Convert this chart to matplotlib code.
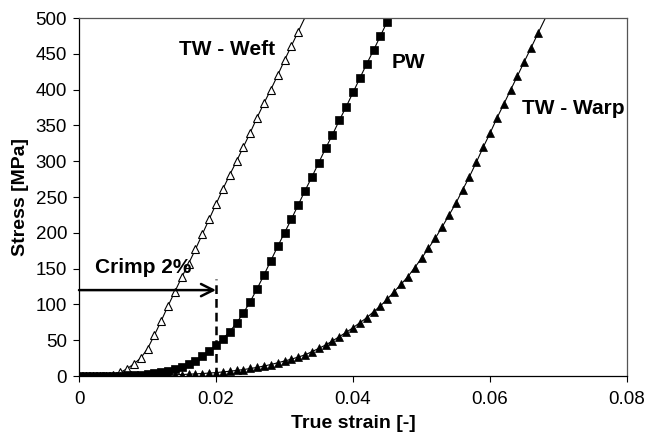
import numpy as np
import matplotlib
matplotlib.use("Agg")
import matplotlib.pyplot as plt

plt.rcParams['font.family'] = ['Liberation Sans', 'DejaVu Sans']

STEP = 0.001

# TW - Weft (open triangles), one marker per 0.001 strain
stress_weft = [0, 0, 0, 0, 0.5, 1.5, 5, 10, 17, 25, 38, 57, 77, 98, 118, 138,
               157, 177, 198, 219, 240, 261, 281, 300, 320, 340, 361, 381, 400,
               420, 441, 461, 481]
# PW (filled squares)
stress_pw = [0, 0, 0, 0, 0.2, 0.3, 0.5, 0.8, 1.3, 2, 3, 4, 5.5, 7.5, 10, 13,
             16.5, 21.5, 28, 35, 43, 52, 62, 74, 88, 104, 122, 141, 161, 181,
             200, 219, 239, 259, 278, 298, 318, 337, 357, 376, 396, 416, 436,
             455, 475, 495]
# TW - Warp (filled triangles)
stress_warp = [0, 0, 0, 0, 0.1, 0.2, 0.3, 0.4, 0.5, 0.6, 0.8, 1.0, 1.2, 1.5,
               1.8, 2.1, 2.5, 3.0, 3.5, 4.1, 4.8, 5.7, 6.7, 7.8, 9.0, 10.5, 12,
               14, 16, 18.5, 21, 23.5, 26.5, 29.5, 34, 38.6, 43.3, 49, 55, 61,
               67.5, 74.4, 81.4, 89.8, 97.8, 107.5, 117.7, 128, 138.7, 151.3,
               164.4, 178.4, 192.3, 208, 224.5, 241, 260, 278.5, 298.5, 319.4,
               339, 360, 379.5, 399.4, 419, 439, 458.5, 478.6]
# the thin trend lines run on past the last marker to the top of the plot
line_end = {'weft': (0.033, 501), 'pw': (0.046, 515), 'warp': (0.069, 518)}

crimp_strain = 0.02
crimp_stress = 120


def strains(vals):
    return np.arange(len(vals)) * STEP


fig = plt.figure(figsize=(6.46, 4.33), dpi=100)
ax = fig.add_axes([0.1223, 0.1316, 0.8483, 0.8268])

series = [
    ('weft', stress_weft, dict(marker='^', mfc='white', mec='black', ms=5.5, mew=0.8)),
    ('pw', stress_pw, dict(marker='s', mfc='black', mec='black', ms=5.2, mew=0.5)),
    ('warp', stress_warp, dict(marker='^', mfc='black', mec='black', ms=5.5, mew=0.5)),
]
for key, vals, mk in series:
    x = np.append(strains(vals), line_end[key][0])
    y = np.append(vals, line_end[key][1])
    ax.plot(x, y, color='black', lw=0.8, markevery=slice(0, len(vals)), **mk)

# crimp annotation
ax.annotate('', xy=(crimp_strain, crimp_stress), xytext=(0, crimp_stress),
            arrowprops=dict(arrowstyle='->', color='black', lw=1.8,
                            mutation_scale=22, shrinkA=0, shrinkB=0))
ax.plot([crimp_strain, crimp_strain], [0, 135], color='black', lw=1.8,
        ls=(0, (3.5, 2)))
ax.text(0.00234, 144, 'Crimp 2%', fontsize=15, fontweight='bold', va='baseline')

ax.text(0.01464, 448, 'TW - Weft', fontsize=15, fontweight='bold', va='baseline')
ax.text(0.04565, 430, 'PW', fontsize=15, fontweight='bold', va='baseline')
ax.text(0.06462, 366, 'TW - Warp', fontsize=15, fontweight='bold', va='baseline')

ax.set_xlim(0, 0.08)
ax.set_ylim(0, 500)
ax.set_xticks([0, 0.02, 0.04, 0.06, 0.08])
ax.set_xticklabels(['0', '0.02', '0.04', '0.06', '0.08'])
ax.set_yticks(range(0, 501, 50))
ax.tick_params(direction='out', length=4, width=0.8, labelsize=13.5)
ax.tick_params(axis='x', pad=7)
ax.tick_params(axis='y', pad=4.5)
ax.set_xlabel('True strain [-]', fontsize=14, fontweight='bold', labelpad=5)
ax.set_ylabel('Stress [MPa]', fontsize=14, fontweight='bold', labelpad=5)
for side in ('left', 'bottom'):
    ax.spines[side].set_color('black')
for side in ('top', 'right'):
    ax.spines[side].set_color('#555555')
for sp in ax.spines.values():
    sp.set_linewidth(0.9)

fig.savefig('out.png', dpi=100)
